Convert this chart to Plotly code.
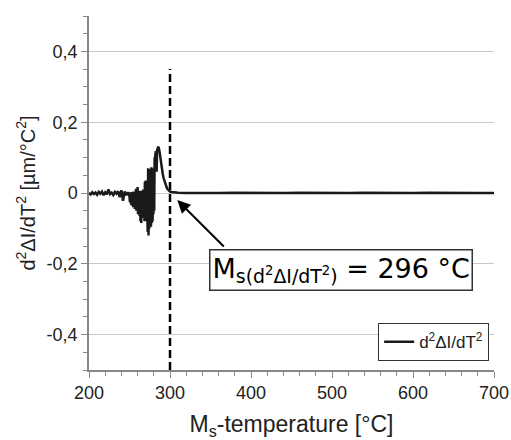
import plotly.graph_objects as go

# ---- data ----
temp = [200, 202, 204, 206, 208, 210, 212, 214, 216, 218, 220, 222, 224, 226, 228,
        230, 232, 234, 236, 238, 240, 242, 244, 246, 248,
        250, 250.5, 251, 251.5, 252, 252.5, 253, 253.5, 254, 254.5, 255, 255.5, 256,
        256.5, 257, 257.5, 258, 258.5, 259, 259.5, 260, 260.5, 261, 261.5, 262, 262.5,
        263, 263.5, 264, 264.5, 265, 265.5, 266, 266.5, 267, 267.5, 268, 268.5, 269,
        269.5, 270, 270.5, 271, 271.5, 272, 272.5, 273, 273.5, 274, 274.5, 275, 275.5,
        276, 276.5, 277, 277.5, 278, 278.5, 279, 279.5, 280, 280.5, 281, 281.5, 282,
        282.5, 283, 283.5, 284, 284.5, 285, 285.5, 286, 286.5, 287, 287.5, 288, 288.5,
        289, 290, 291, 292, 293, 294, 295, 296, 297, 298, 299, 300, 302, 305, 310, 320,
        340, 360, 380, 400, 420, 440, 460, 480, 500, 520, 540, 560, 580, 600, 620,
        640, 660, 680, 700]
d2 = [0.000, -0.004, 0.002, -0.003, 0.001, -0.005, 0.003, -0.002, 0.004, -0.006, 0.002,
      -0.004, 0.010, -0.003, 0.001, -0.006, 0.003, -0.002, 0.005, -0.012, 0.008, -0.022,
      0.004, -0.006, 0.002,
      -0.010, -0.025, 0.002, -0.030, 0.000, -0.035, 0.003, -0.020, 0.002, -0.040, 0.004,
      -0.030, 0.002, -0.045, 0.003, -0.035, 0.012, -0.050, 0.005, -0.040, 0.017, -0.060,
      0.004, -0.055, 0.006, -0.065, 0.002, -0.080, 0.004, -0.085, 0.006, -0.060, 0.004,
      -0.070, 0.010, -0.050, 0.006, -0.080, 0.032, -0.075, 0.035, -0.080, 0.030, -0.090,
      0.002, -0.110, 0.070, -0.120, 0.068, -0.100, 0.004, -0.090, 0.002, -0.095, 0.073,
      -0.085, 0.070, -0.080, 0.003, -0.060, 0.002, -0.050, 0.100, 0.098, 0.110, 0.118,
      0.105, 0.060, 0.120, 0.128, 0.130, 0.131, 0.128, 0.125, 0.118, 0.110, 0.100,
      0.094, 0.088, 0.070, 0.055, 0.043, 0.035, 0.027, 0.020, 0.015, 0.011, 0.008,
      0.006, 0.004, 0.003, 0.002, 0.001, 0.000, -0.001, 0.000, 0.001, 0.000, -0.001,
      0.000, 0.001, 0.000, -0.001, 0.000, 0.001, 0.000, -0.001, 0.000, 0.001, 0.000,
      -0.001, 0.000, 0.000]

ms_x = [300, 300]
ms_y = [-0.5, 0.35]
arrow_tip = (309, -0.02)

x_ticks = [200, 300, 400, 500, 600, 700]
y_ticks = [-0.4, -0.2, 0, 0.2, 0.4]
y_ticklabels = ["-0,4", "-0,2", "0", "0,2", "0,4"]

sans = "Liberation Sans, Arial, sans-serif"

fig = go.Figure()
fig.add_trace(go.Scatter(x=ms_x, y=ms_y, mode="lines", showlegend=False,
                         line=dict(color="black", width=2.5, dash="8px,4px")))
fig.add_trace(go.Scatter(x=temp, y=d2, mode="lines",
                         name="d<sup>2</sup>ΔI/dT<sup>2</sup>",
                         line=dict(color="#1a1a1a", width=2.5)))

fig.add_annotation(x=arrow_tip[0], y=arrow_tip[1], text="", showarrow=True,
                   ax=48, ay=48, arrowhead=2, arrowsize=1.3, arrowwidth=2,
                   arrowcolor="black")
fig.add_annotation(x=0.622, y=-0.217, xref="paper", yref="y", showarrow=False,
                   text="M<sub>s(d<sup>2</sup>ΔI/dT<sup>2</sup>)</sub> = 296 °C",
                   font=dict(family="DejaVu Sans", size=27, color="black"),
                   bordercolor="#333", borderwidth=1.5, borderpad=2, bgcolor="white")

fig.update_layout(
    width=511, height=440,
    margin=dict(l=89, r=17, t=16, b=70),
    plot_bgcolor="white", paper_bgcolor="white",
    font=dict(family=sans, size=18, color="#222"),
    legend=dict(x=0.988, y=0.025, xanchor="right", yanchor="bottom",
                bordercolor="#333", borderwidth=1, bgcolor="white",
                font=dict(family=sans, size=17), itemwidth=30,
                tracegroupgap=0),
    xaxis=dict(range=[200, 700], tickvals=x_ticks, showgrid=False, zeroline=False,
               automargin=False,
               showline=True, linecolor="#888", linewidth=1.5,
               ticks="outside", ticklen=6, tickcolor="#888",
               minor=dict(dtick=20, ticks="outside", ticklen=4, tickcolor="#888"),
               tickfont=dict(family=sans, size=18),
               title=dict(text="M<sub>s</sub>-temperature [°C]",
                          font=dict(family=sans, size=23), standoff=18)),
    yaxis=dict(range=[-0.5, 0.5], tickvals=y_ticks, ticktext=y_ticklabels,
               automargin=False,
               showgrid=True, gridcolor="#c8c8c8", gridwidth=1, zeroline=False,
               showline=True, linecolor="#888", linewidth=1.5,
               ticks="outside", ticklen=6, tickcolor="#888",
               minor=dict(dtick=0.05, ticks="outside", ticklen=4, tickcolor="#888",
                          showgrid=False),
               tickfont=dict(family=sans, size=18),
               title=dict(text="d<sup>2</sup>ΔI/dT<sup>2</sup> [µm/°C<sup>2</sup>]",
                          font=dict(family=sans, size=20), standoff=6)),
)

fig.write_html("out.html")
